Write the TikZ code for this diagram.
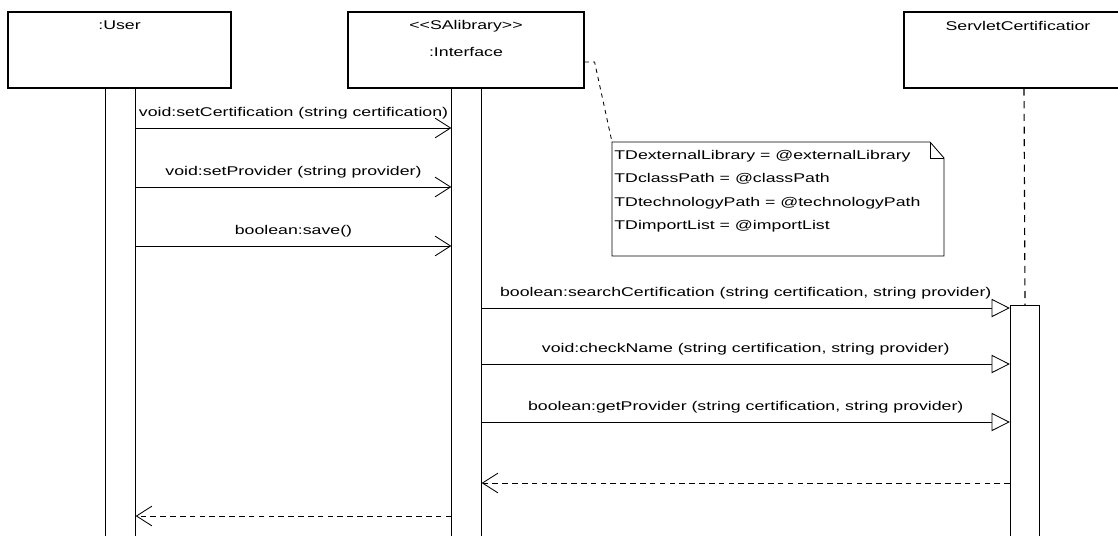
\documentclass[tikz,border=0pt]{standalone}
\usepackage{fontspec}
\setmainfont[FakeStretch=1.4]{Liberation Sans}
\usetikzlibrary{arrows.meta,positioning}

\begin{document}
\begin{tikzpicture}[
    x=0.025cm,
    y=-0.025cm,
    font=\fontsize{9}{11}\selectfont,
    lifebox/.style={
        rectangle,
        draw=black,
        line width=0.8pt,
        fill=white,
        minimum width=5.9cm,
        minimum height=1.9cm
    },
    boxtext/.style={
        inner sep=1pt
    },
    bar/.style={
        rectangle,
        draw=black,
        line width=0.8pt,
        fill=white,
        minimum width=0.73cm,
        anchor=north
    },
    lifeline/.style={
        line width=0.8pt,
        dash pattern=on 5pt off 4pt
    },
    call/.style={
        line width=0.6pt,
        -{Straight Barb[length=11pt,width=14pt]}
    },
    query/.style={
        line width=0.6pt,
        -{Triangle[open,fill=white,length=13pt,width=13pt]}
    },
    reply/.style={
        line width=0.6pt,
        dash pattern=on 4pt off 3pt,
        -{Straight Barb[length=11pt,width=14pt]}
    },
    msg/.style={
        above=3pt
    },
    notetext/.style={
        anchor=north west,
        align=left,
        inner xsep=1.5pt,
        inner ysep=6pt,
        font=\fontsize{9}{16.4}\selectfont
    },
    notebox/.style={
        line width=0.6pt
    }
]
\useasboundingbox (0,0) rectangle (1118,535);
\clip (0,0) rectangle (1118,535);

% Objekte
\node[lifebox, minimum width=5.575cm] (user) at (119.5,50) {};
\node[boxtext, below=0.2cm of user.north] (userlbl) {:User};

\node[lifebox] (iface) at (466,50) {};
\node[boxtext, below=0.18cm of iface.north] (ifstereo) {<{}<SAlibrary>{}>};
\node[boxtext, below=0.85cm of iface.north] (ifname) {:Interface};

\node[lifebox, minimum width=6cm] (servlet) at (1024,50) {};
\node[boxtext, below=0.2cm of servlet.north, xshift=-0.15cm] (servletlbl) {ServletCertificatior};

% Aktivierungsbalken
\node[bar, minimum height=11.5cm] (userbar) at (120.5,88) {};
\node[bar, minimum height=11.5cm] (ifacebar) at (466.5,88) {};
\node[bar, minimum height=6.1cm] (servletbar) at (1025,305) {};
\draw[lifeline] (servlet.south) -- (servletbar.north);

% Notiz
\node[notetext] (note) at (612,142) {TDexternalLibrary = @externalLibrary\\
    TDclassPath = @classPath\\
    TDtechnologyPath = @technologyPath\\
    TDimportList = @importList};
\draw[notebox] (note.north west) -- ++(318,0) -- ++(14,16) -- ++(0,98) -- ++(-332,0) -- cycle;
\draw[notebox] ([xshift=7.95cm]note.north west) |- ([xshift=8.3cm,yshift=-0.4cm]note.north west);
\draw[lifeline, line width=0.6pt, dash pattern=on 3pt off 3pt] ([yshift=-0.3cm]iface.east) -- ++(10,0) -- (note.north west);

% Nachrichten User -> Interface
\draw[call] (userbar.east |- 0,128) -- node[msg] {void:setCertification (string certification)} (ifacebar.west |- 0,128);
\draw[call] (userbar.east |- 0,187) -- node[msg] {void:setProvider (string provider)} (ifacebar.west |- 0,187);
\draw[call] (userbar.east |- 0,246) -- node[msg] {boolean:save()} (ifacebar.west |- 0,246);

% Nachrichten Interface -> Servlet
\draw[query] (ifacebar.east |- 0,308) -- node[msg] {boolean:searchCertification (string certification, string provider)} (servletbar.west |- 0,308);
\draw[query] (ifacebar.east |- 0,364) -- node[msg] {void:checkName (string certification, string provider)} (servletbar.west |- 0,364);
\draw[query] (ifacebar.east |- 0,422) -- node[msg] {boolean:getProvider (string certification, string provider)} (servletbar.west |- 0,422);

% Antworten
\draw[reply] (servletbar.west |- 0,483) -- (ifacebar.east |- 0,483);
\draw[reply] (ifacebar.west |- 0,516) -- (userbar.east |- 0,516);

\end{tikzpicture}
\end{document}
